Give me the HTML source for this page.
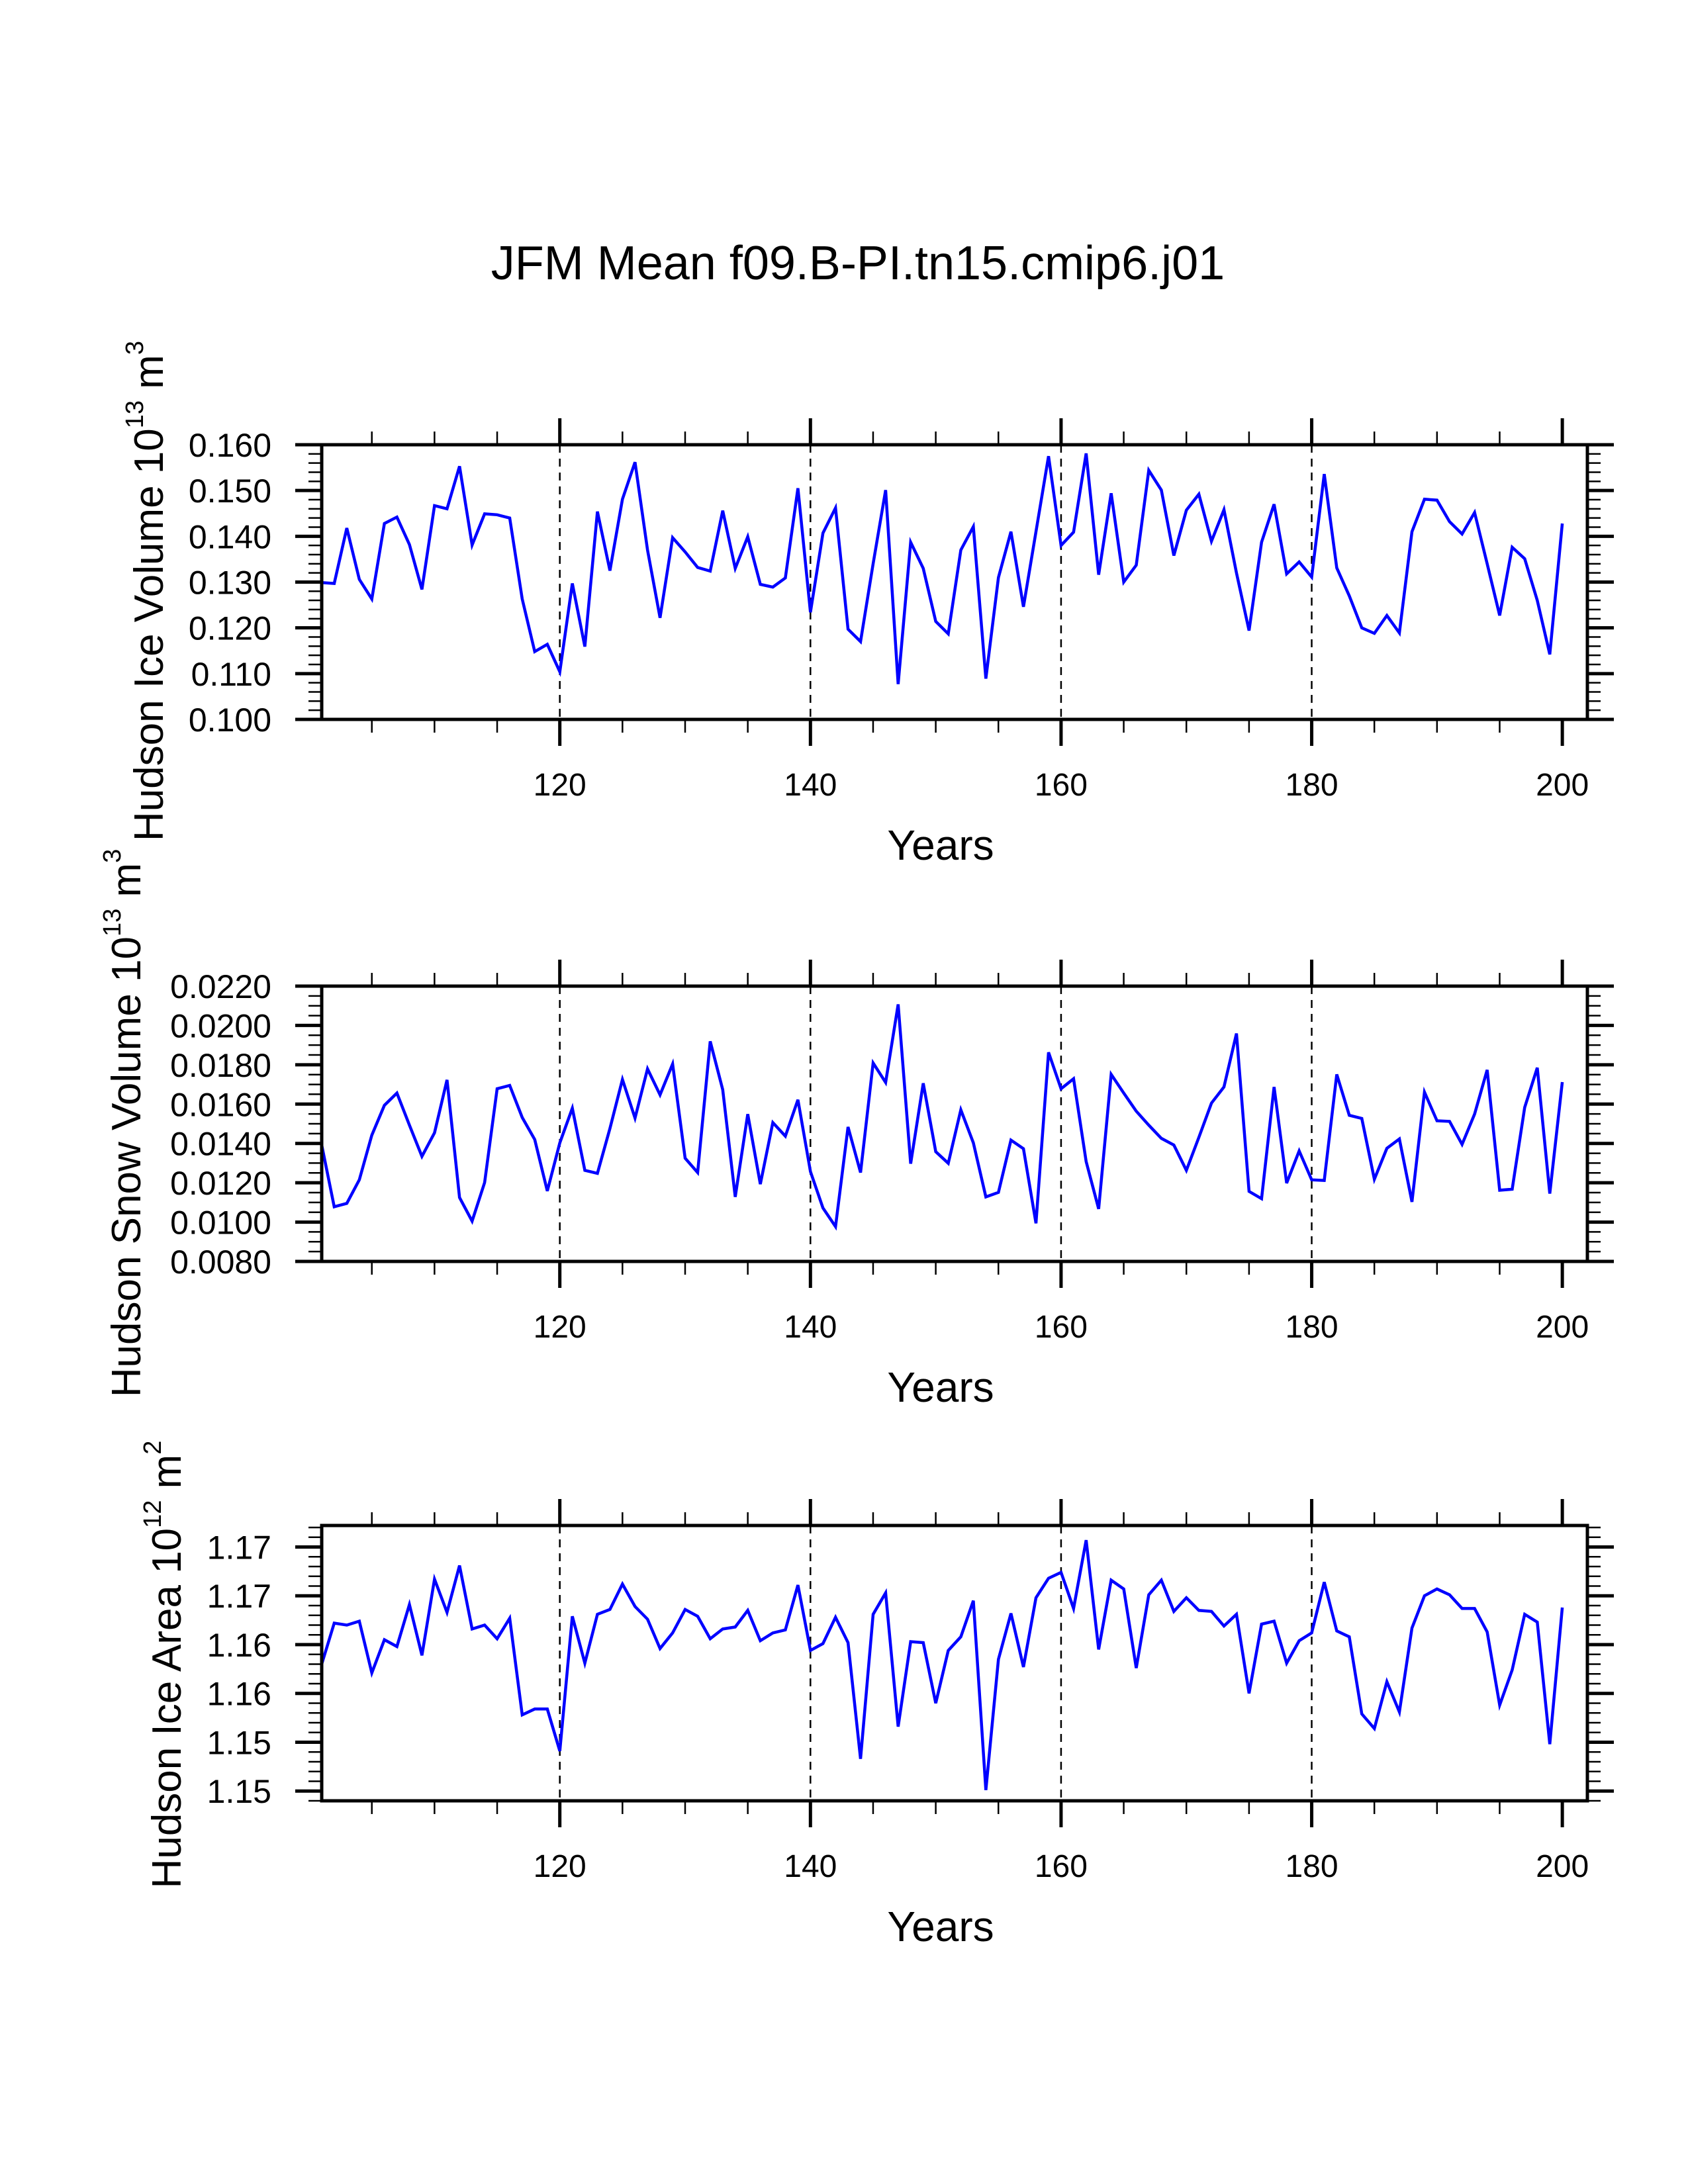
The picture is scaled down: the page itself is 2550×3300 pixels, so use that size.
<!DOCTYPE html>
<html><head><meta charset="utf-8"><style>
html,body{margin:0;padding:0;background:#fff;}
svg{display:block;}
text{font-family:"Liberation Sans",sans-serif;fill:#000;}
</style></head><body>
<svg id="chart" width="2550" height="3300" viewBox="0 0 2550 3300" xmlns="http://www.w3.org/2000/svg">
<rect x="0" y="0" width="2550" height="3300" fill="#fff"/>
<text x="1296" y="422" font-size="72" text-anchor="middle">JFM Mean f09.B-PI.tn15.cmip6.j01</text>
</svg>
<script>
const years = [];
for (let y = 101; y <= 200; y++) years.push(y);
const xMajorTicks = [120, 140, 160, 180, 200];
const xTickLabels = ["120", "140", "160", "180", "200"];
const gridYears = [120, 140, 160, 180];

const iceVolume = [0.1299,0.1297,0.1418,0.1306,0.1263,0.1428,0.1442,0.1382,0.1284,0.1467,
0.1460,0.1553,0.1381,0.1449,0.1447,0.1440,0.1263,0.1148,0.1164,0.1104,
0.1297,0.1159,0.1454,0.1325,0.1481,0.1562,0.1370,0.1222,0.1397,0.1366,
0.1332,0.1324,0.1456,0.1330,0.1399,0.1295,0.1289,0.1309,0.1505,0.1234,
0.1407,0.1462,0.1197,0.1170,0.1340,0.1501,0.1077,0.1387,0.1330,0.1214,
0.1187,0.1370,0.1421,0.1089,0.1310,0.1410,0.1246,0.1410,0.1575,0.1380,
0.1409,0.1581,0.1316,0.1494,0.1300,0.1337,0.1544,0.1501,0.1358,0.1457,
0.1492,0.1389,0.1458,0.1320,0.1194,0.1387,0.1470,0.1318,0.1344,0.1311,
0.1536,0.1331,0.1270,0.1200,0.1188,0.1227,0.1189,0.1410,0.1481,0.1479,
0.1432,0.1405,0.1452,0.1340,0.1227,0.1376,0.1351,0.1260,0.1142,0.1428];
const snowVolume = [0.01392,0.01078,0.01095,0.01215,0.01442,0.01594,0.01656,0.01493,0.01334,0.01454,
0.01723,0.01125,0.01005,0.01201,0.01678,0.01695,0.01532,0.01420,0.01158,0.01403,
0.01579,0.01263,0.01248,0.01476,0.01725,0.01529,0.01779,0.01647,0.01804,0.01325,
0.01252,0.01919,0.01673,0.01128,0.01549,0.01193,0.01506,0.01437,0.01622,0.01257,
0.01072,0.00977,0.01484,0.01252,0.01809,0.01710,0.02107,0.01297,0.01706,0.01358,
0.01299,0.01571,0.01403,0.01128,0.01151,0.01417,0.01373,0.00994,0.01863,0.01678,
0.01729,0.01308,0.01067,0.01751,0.01656,0.01564,0.01493,0.01426,0.01392,0.01263,
0.01431,0.01605,0.01687,0.01959,0.01156,0.01119,0.01687,0.01198,0.01362,0.01215,
0.01212,0.01751,0.01543,0.01527,0.01218,0.01375,0.01423,0.01103,0.01661,0.01515,
0.01512,0.01395,0.01549,0.01774,0.01162,0.01167,0.01583,0.01785,0.01145,0.01712];
const iceArea = [1.1580,1.1622,1.1620,1.1624,1.1571,1.1605,1.1598,1.1641,1.1589,1.1667,
1.1633,1.1681,1.1616,1.1620,1.1606,1.1627,1.1528,1.1534,1.1534,1.1491,
1.1629,1.1581,1.1631,1.1636,1.1662,1.1639,1.1626,1.1596,1.1612,1.1636,
1.1629,1.1606,1.1616,1.1618,1.1635,1.1604,1.1612,1.1615,1.1661,1.1594,
1.1601,1.1628,1.1602,1.1483,1.1631,1.1653,1.1516,1.1603,1.1602,1.1540,
1.1594,1.1608,1.1645,1.1451,1.1585,1.1632,1.1577,1.1648,1.1668,1.1674,
1.1637,1.1707,1.1595,1.1666,1.1657,1.1576,1.1651,1.1666,1.1634,1.1648,
1.1635,1.1634,1.1619,1.1631,1.1550,1.1621,1.1624,1.1581,1.1604,1.1612,
1.1664,1.1614,1.1608,1.1529,1.1514,1.1562,1.1531,1.1617,1.1650,1.1657,
1.1651,1.1637,1.1637,1.1613,1.1538,1.1574,1.1631,1.1623,1.1498,1.1638];

const volTicks = [0.100,0.110,0.120,0.130,0.140,0.150,0.160];
const volTickLabels = ["0.100","0.110","0.120","0.130","0.140","0.150","0.160"];
const snowTicks = [0.008,0.010,0.012,0.014,0.016,0.018,0.020,0.022];
const snowTickLabels = ["0.0080","0.0100","0.0120","0.0140","0.0160","0.0180","0.0200","0.0220"];
const areaTicks = [1.145,1.150,1.155,1.160,1.165,1.170];
const areaTickLabels = ["1.15","1.15","1.16","1.16","1.17","1.17"];

const NS = "http://www.w3.org/2000/svg";
const svg = document.getElementById("chart");
const X0 = 486, X1 = 2398, XMIN = 101, XMAX = 202;
function xPos(yr){ return X0 + (yr - XMIN) / (XMAX - XMIN) * (X1 - X0); }
function mk(tag, attrs, parent){
  const e = document.createElementNS(NS, tag);
  for (const k in attrs) e.setAttribute(k, attrs[k]);
  (parent || svg).appendChild(e);
  return e;
}

const panels = [
  {key:"ice-volume", top:672, bot:1087, ymin:0.100, ymax:0.160, minor:0.002, data:iceVolume, ticks:volTicks, labels:volTickLabels,
   title:["Hudson Ice Volume 10","13"," m","3"], tx:246, ty:893},
  {key:"snow-volume", top:1490, bot:1906, ymin:0.008, ymax:0.022, minor:0.0005, data:snowVolume, ticks:snowTicks, labels:snowTickLabels,
   title:["Hudson Snow Volume 10","13"," m","3"], tx:212, ty:1697},
  {key:"ice-area", top:2305, bot:2721, ymin:1.144, ymax:1.1722, minor:0.001, data:iceArea, ticks:areaTicks, labels:areaTickLabels,
   title:["Hudson Ice Area 10","12"," m","2"], tx:273, ty:2515}
];

panels.forEach(p => {
  const g = mk("g", {});
  
  
  const yPos = v => p.bot - (v - p.ymin) / (p.ymax - p.ymin) * (p.bot - p.top);

  gridYears.forEach(yr => {
    const l = mk("line", {x1:xPos(yr), x2:xPos(yr), y1:p.top, y2:p.bot, stroke:"#000", "stroke-width":2.5, "stroke-dasharray":"12 9"}, g);
    
    
  });

  for (let yr = 105; yr <= 200; yr += 5) {
    const major = xMajorTicks.indexOf(yr) >= 0;
    const len = major ? 40 : 20, w = major ? 5 : 2.5;
    const x = xPos(yr);
    const t1 = mk("line", {x1:x, x2:x, y1:p.top, y2:p.top - len, stroke:"#000", "stroke-width":w}, g);
    
    
    const t2 = mk("line", {x1:x, x2:x, y1:p.bot, y2:p.bot + len, stroke:"#000", "stroke-width":w}, g);
    
    
  }
  xMajorTicks.forEach((yr, i) => {
    const t = mk("text", {x:xPos(yr), y:p.bot + 115, "font-size":48, "text-anchor":"middle"}, g);
    t.textContent = xTickLabels[i];
    
    
  });

  const nMinor = Math.round((p.ymax - p.ymin) / p.minor + 1e-6);
  for (let i = 0; i <= nMinor; i++) {
    const v = p.ymin + i * p.minor;
    const y = yPos(v);
    if (y < p.top - 1) continue;
    const major = p.ticks.some(t => Math.abs(t - v) < p.minor / 10);
    const len = major ? 40 : 20, w = major ? 5 : 2.5;
    const a = mk("line", {x1:X0, x2:X0 - len, y1:y, y2:y, stroke:"#000", "stroke-width":w}, g);
    
    
    const b = mk("line", {x1:X1, x2:X1 + len, y1:y, y2:y, stroke:"#000", "stroke-width":w}, g);
    
    
  }
  p.ticks.forEach((v, i) => {
    const t = mk("text", {x:410, y:yPos(v) + 18, "font-size":50, "text-anchor":"end"}, g);
    t.textContent = p.labels[i];
    
    
  });

  const pts = p.data.map((v, i) => xPos(years[i]).toFixed(1) + "," + yPos(v).toFixed(1)).join(" ");
  const line = mk("polyline", {points:pts, fill:"none", stroke:"#0000ff", "stroke-width":4.5, "stroke-linejoin":"miter"}, g);
  
  

  const fr = mk("rect", {x:X0, y:p.top, width:X1 - X0, height:p.bot - p.top, fill:"none", stroke:"#000", "stroke-width":5}, g);
  
  

  const xt = mk("text", {x:1421, y:p.bot + 212, "font-size":64, "text-anchor":"middle"}, g);
  xt.textContent = "Years";
  
  

  const yt = mk("text", {x:0, y:0, "font-size":62, "text-anchor":"middle", transform:"translate(" + p.tx + "," + p.ty + ") rotate(-90)"}, g);
  
  
  const s1 = mk("tspan", {}, yt); s1.textContent = p.title[0];
  const s2 = mk("tspan", {dy:-30, "font-size":38}, yt); s2.textContent = p.title[1];
  const s3 = mk("tspan", {dy:30}, yt); s3.textContent = p.title[2];
  const s4 = mk("tspan", {dy:-30, "font-size":38}, yt); s4.textContent = p.title[3];
});
</script>
</body></html>
